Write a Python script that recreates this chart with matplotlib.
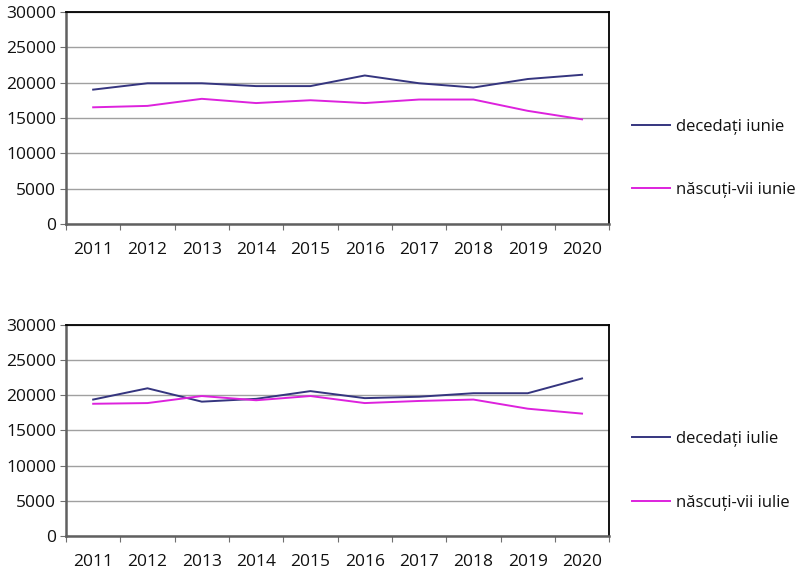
import numpy as np
import matplotlib.pyplot as plt

years = ['2011', '2012', '2013', '2014', '2015', '2016', '2017', '2018', '2019', '2020']

decedati_iunie = [19000, 19900, 19900, 19500, 19500, 21000, 19900, 19300, 20500, 21100]
nascuti_iunie = [16500, 16700, 17700, 17100, 17500, 17100, 17600, 17600, 16000, 14800]

decedati_iulie = [19400, 21000, 19100, 19500, 20600, 19600, 19800, 20300, 20300, 22400]
nascuti_iulie = [18800, 18900, 19900, 19300, 19900, 18900, 19200, 19400, 18100, 17400]

plt.rcParams['font.family'] = ['Open Sans', 'DejaVu Sans']

fig = plt.figure(figsize=(8, 5.78), dpi=100)
ax1 = fig.add_axes([0.0825, 0.6125, 0.679, 0.367])
ax2 = fig.add_axes([0.0825, 0.0727, 0.679, 0.365])

panels = [
    (ax1, decedati_iunie, nascuti_iunie, 'decedați iunie', 'născuți-vii iunie'),
    (ax2, decedati_iulie, nascuti_iulie, 'decedați iulie', 'născuți-vii iulie'),
]

x = np.arange(len(years))
for ax, dec, nas, lab_d, lab_n in panels:
    ax.plot(x, dec, color='#35357f', lw=1.4, label=lab_d)
    ax.plot(x, nas, color='#dd22dd', lw=1.4, label=lab_n)
    ax.set_xlim(-0.5, len(years) - 0.5)
    ax.set_ylim(0, 30000)
    ax.set_yticks(np.arange(0, 30001, 5000))
    ax.yaxis.grid(True, color='#a0a0a0', lw=1)
    ax.set_axisbelow(True)
    # ticks at category boundaries, labels in between
    ax.set_xticks(np.arange(-0.5, len(years), 1.0))
    ax.set_xticklabels([])
    ax.set_xticks(x, minor=True)
    ax.set_xticklabels(years, minor=True)
    ax.tick_params(axis='x', which='major', length=4, color='#707070', direction='out')
    ax.tick_params(axis='x', which='minor', length=0, pad=13, labelsize=12.5, labelcolor='#111111')
    ax.tick_params(axis='y', length=4, color='#707070', labelsize=12.5, labelcolor='#111111', pad=3)
    for s in ['top', 'right']:
        ax.spines[s].set_color('black')
        ax.spines[s].set_linewidth(1.3)
    for s in ['left', 'bottom']:
        ax.spines[s].set_color('#606060')
        ax.spines[s].set_linewidth(1.8)
    ax.legend(loc='center left', bbox_to_anchor=(1.042, 0.309), frameon=False,
              fontsize=12, labelspacing=2.85, handlelength=2.3, handletextpad=0.35,
              borderpad=0, borderaxespad=0, labelcolor='#111111')

fig.savefig('out.png', dpi=100)
